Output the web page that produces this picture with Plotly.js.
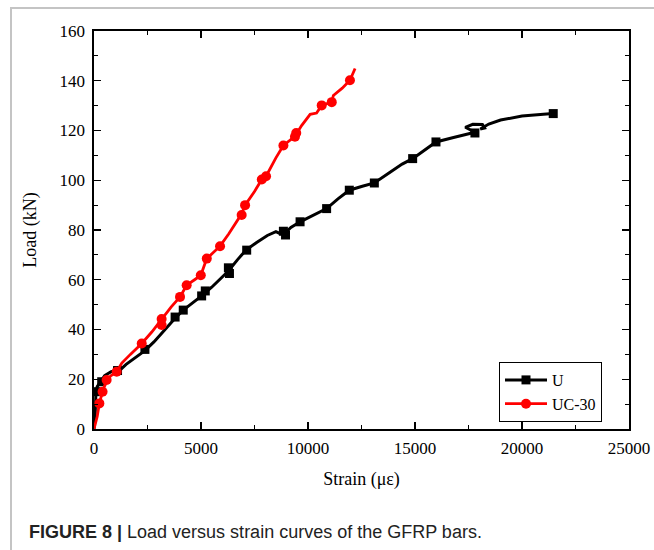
<!DOCTYPE html>
<html>
<head>
<meta charset="utf-8">
<script src="https://cdn.plot.ly/plotly-3.0.1.min.js"></script>
<style>
  html, body { margin: 0; padding: 0; background: #ffffff; }
  #chart { width: 654px; height: 550px; }
</style>
</head>
<body>
<div id="chart"></div>
<script>
// ---- Data ----
// Series U: full curve
const uStrain = [0, 50, 70, 90, 150, 280, 500, 800, 1215, 1500, 1900, 2380, 2800, 3300, 3790, 4170, 4600, 5030, 5500, 6000, 6280, 6700, 7100, 7600, 8100, 8500, 8700, 8925, 9200, 9630, 10300, 10870, 11400, 11930, 12500, 13100, 13800, 14400, 14890, 15400, 15980, 16800, 17800, 17350, 17700, 18150, 18250, 18050, 18450, 19000, 20000, 21000, 21460];
const uLoad   = [0, 4, 10, 14.5, 17, 18.6, 21.5, 23, 23.7, 26, 28.5, 31.5, 35, 40, 44.5, 47.8, 50.5, 53.5, 57, 61, 63.5, 68, 71.9, 75, 77.8, 79.3, 78.5, 78.8, 81, 83.3, 86, 88.6, 92.5, 96, 97.5, 98.9, 103, 106.5, 108.7, 112, 115.4, 117.2, 119.3, 121.3, 122.5, 122.4, 121.0, 120.6, 122.6, 124.2, 125.8, 126.5, 126.8];
// Series U: marker positions
const uMarkStrain = [94, 360, 1100, 2380, 3790, 4170, 5030, 5200, 6280, 6330, 7135, 8850, 8950, 9630, 10870, 11930, 13100, 14890, 15980, 17800, 21460];
const uMarkLoad   = [15, 19, 23.5, 32, 45, 47.8, 53.5, 55.5, 64.8, 62.5, 71.9, 79.5, 78, 83.3, 88.6, 96, 98.9, 108.7, 115.4, 119, 126.8];

// Series UC-30: full curve
const ucStrain = [0, 60, 150, 250, 400, 590, 800, 1060, 1300, 1700, 2230, 2700, 3160, 3600, 4020, 4330, 4700, 4990, 5270, 5600, 5890, 6300, 6900, 7060, 7500, 7840, 8040, 8500, 8850, 9390, 9700, 10100, 10400, 10640, 11110, 11185, 11600, 11960, 12200];
const ucLoad   = [0, 2, 5, 10.3, 15, 19.7, 21.5, 23, 26.5, 30, 34.4, 39, 44.2, 49, 53.1, 57.8, 60, 61.8, 68.5, 71, 73.5, 78.5, 86.5, 90, 95.5, 100.3, 101.6, 109, 114, 117.7, 122, 126.5, 127, 130.1, 131.4, 134.1, 137, 140.2, 144.9];
// Series UC-30: marker positions
const ucMarkStrain = [250, 400, 590, 1060, 2230, 3160, 3160, 4020, 4330, 4990, 5270, 5890, 6900, 7060, 7840, 8040, 8850, 9390, 9450, 10640, 11110, 11960];
const ucMarkLoad   = [10.3, 15, 19.7, 23, 34.4, 44.2, 41.8, 53.1, 57.8, 61.8, 68.5, 73.5, 86, 90, 100.3, 101.6, 114, 117.5, 119, 130.1, 131.4, 140.2];

const seriesNames = ['U', 'UC-30'];
const seriesColors = ['#000000', '#ff0000'];
const xTickVals = [0, 5000, 10000, 15000, 20000, 25000];
const yTickVals = [0, 20, 40, 60, 80, 100, 120, 140, 160];

const serif = "'Liberation Serif', 'Times New Roman', serif";

const traces = [
  { x: uStrain, y: uLoad, mode: 'lines', line: { color: seriesColors[0], width: 3 }, showlegend: false, hoverinfo: 'skip' },
  { x: uMarkStrain, y: uMarkLoad, mode: 'markers', marker: { symbol: 'square', size: 9, color: seriesColors[0] }, showlegend: false },
  { x: ucStrain, y: ucLoad, mode: 'lines', line: { color: seriesColors[1], width: 2.8 }, showlegend: false, hoverinfo: 'skip' },
  { x: ucMarkStrain, y: ucMarkLoad, mode: 'markers', marker: { symbol: 'circle', size: 10, color: seriesColors[1] }, showlegend: false },
  // legend entries
  { x: [null], y: [null], name: seriesNames[0], mode: 'lines+markers', line: { color: seriesColors[0], width: 3 }, marker: { symbol: 'square', size: 9, color: seriesColors[0] } },
  { x: [null], y: [null], name: seriesNames[1], mode: 'lines+markers', line: { color: seriesColors[1], width: 2.8 }, marker: { symbol: 'circle', size: 10, color: seriesColors[1] } }
];

const L = 94, R = 25, T = 31, B = 121;
const plotW = 654 - L - R, plotH = 550 - T - B;
const px = v => (v - L) / plotW;
const py = v => (550 - B - v) / plotH;

const layout = {
  width: 654, height: 550,
  margin: { l: L, r: R, t: T, b: B, pad: 0 },
  paper_bgcolor: '#ffffff', plot_bgcolor: '#ffffff',
  font: { family: serif, size: 17, color: '#000000' },
  showlegend: true,
  legend: {
    x: px(499), y: py(362), xanchor: 'left', yanchor: 'top',
    bgcolor: '#ffffff', bordercolor: '#000000', borderwidth: 1,
    font: { family: serif, size: 16, color: '#000000' },
    tracegroupgap: 0, itemwidth: 42
  },
  xaxis: {
    range: [0, 25000], tickvals: xTickVals, ticktext: xTickVals.map(String),
    showgrid: false, zeroline: false, showline: true, linecolor: '#000000', linewidth: 1.6,
    mirror: 'allticks', ticks: 'inside', ticklen: 7, tickwidth: 1.4, tickcolor: '#000000',
    minor: { dtick: 2500, ticks: 'inside', ticklen: 4, tickwidth: 1.2, tickcolor: '#000000', showgrid: false },
    tickfont: { family: serif, size: 17, color: '#000000' },
    ticklabelstandoff: 3,
    title: { text: 'Strain (\u03bc\u03b5)', font: { family: serif, size: 18, color: '#000000' }, standoff: 15 }
  },
  yaxis: {
    range: [0, 160], tickvals: yTickVals, ticktext: yTickVals.map(String),
    showgrid: false, zeroline: false, showline: true, linecolor: '#000000', linewidth: 1.6,
    mirror: 'allticks', ticks: 'inside', ticklen: 7, tickwidth: 1.4, tickcolor: '#000000',
    minor: { dtick: 10, ticks: 'inside', ticklen: 4, tickwidth: 1.2, tickcolor: '#000000', showgrid: false },
    tickfont: { family: serif, size: 17, color: '#000000' },
    ticklabelstandoff: 4,
    title: { text: 'Load (kN)', font: { family: serif, size: 18, color: '#000000' }, standoff: 18 }
  },
  shapes: [
    { type: 'rect', xref: 'paper', yref: 'paper', x0: px(11), x1: px(720), y0: py(620), y1: py(8),
      line: { color: '#c4c4c4', width: 2 }, fillcolor: 'rgba(0,0,0,0)', layer: 'below' }
  ],
  annotations: [
    { xref: 'paper', yref: 'paper', x: px(27), y: py(532), xanchor: 'left', yanchor: 'middle', showarrow: false,
      text: '<b>FIGURE 8 |</b> Load versus strain curves of the GFRP bars.',
      font: { family: "'Liberation Sans', Arial, sans-serif", size: 18, color: '#222222' } }
  ]
};

Plotly.newPlot('chart', traces, layout, { displayModeBar: false, staticPlot: true });
</script>
</body>
</html>
